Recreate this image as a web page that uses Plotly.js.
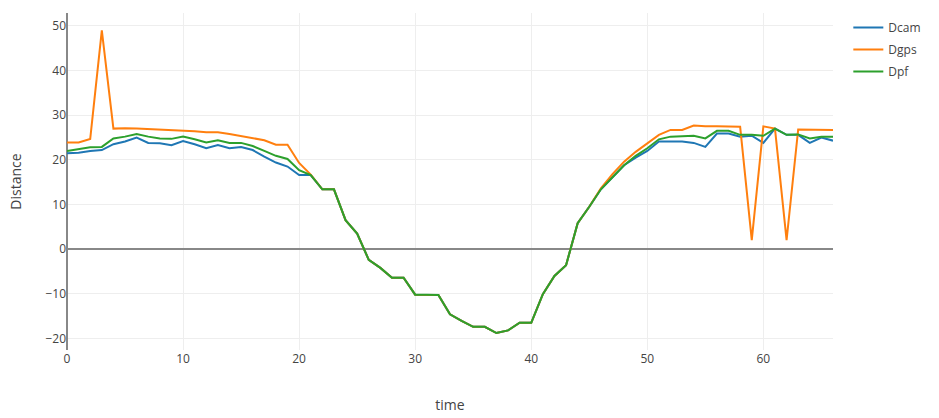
<!DOCTYPE html>
<html>
<head>
<meta charset="utf-8">
<script src="https://cdn.plot.ly/plotly-3.0.1.min.js"></script>
<style>html,body{margin:0;padding:0;background:#fff}#chart{width:939px;height:418px}</style>
</head>
<body>
<div id="chart"></div>
<script>
var time = [];
for (var i = 0; i <= 66; i++) time.push(i);

var dcam = [21.5, 21.6, 22.0, 22.2, 23.5, 24.1, 25.0, 23.8, 23.7, 23.3,
  24.2, 23.5, 22.6, 23.3, 22.6, 22.9, 22.2, 20.7, 19.4, 18.5,
  16.6, 16.6, 13.4, 13.4, 6.5, 3.5, -2.4, -4.2, -6.4, -6.4,
  -10.2, -10.2, -10.3, -14.6, -16.1, -17.4, -17.4, -18.8, -18.2, -16.5,
  -16.5, -10.1, -6.0, -3.6, 5.8, 9.5, 13.4, 16.1, 18.8, 20.5,
  22.0, 24.1, 24.1, 24.1, 23.8, 22.9, 25.9, 25.9, 25.2, 25.4,
  23.8, 27.0, 25.6, 25.6, 23.8, 25.0, 24.3];

var dgps = [23.9, 23.9, 24.7, 49.0, 27.0, 27.1, 27.0, 26.9, 26.8, 26.6,
  26.5, 26.4, 26.2, 26.2, 25.8, 25.3, 24.8, 24.4, 23.4, 23.4,
  19.3, 16.7, 13.4, 13.4, 6.5, 3.5, -2.4, -4.2, -6.4, -6.4,
  -10.2, -10.2, -10.3, -14.6, -16.1, -17.4, -17.4, -18.8, -18.2, -16.5,
  -16.5, -10.1, -6.0, -3.6, 5.8, 9.5, 13.6, 16.8, 19.6, 21.8,
  23.7, 25.6, 26.7, 26.7, 27.7, 27.5, 27.5, 27.4, 27.4, 2.0,
  27.5, 27.0, 2.0, 26.8, 26.8, 26.7, 26.7];

var dpf = [22.0, 22.4, 22.8, 22.9, 24.8, 25.2, 25.8, 25.2, 24.8, 24.7,
  25.2, 24.6, 23.9, 24.4, 23.8, 23.8, 23.1, 22.0, 20.9, 20.2,
  17.7, 16.6, 13.4, 13.4, 6.5, 3.5, -2.4, -4.2, -6.4, -6.4,
  -10.2, -10.2, -10.3, -14.6, -16.1, -17.4, -17.4, -18.8, -18.2, -16.5,
  -16.5, -10.1, -6.0, -3.6, 5.8, 9.5, 13.4, 16.1, 18.8, 20.9,
  22.6, 24.6, 25.2, 25.3, 25.4, 24.8, 26.5, 26.5, 25.6, 25.6,
  25.4, 27.0, 25.6, 25.7, 24.8, 25.2, 25.2];

var seriesNames = ['Dcam', 'Dgps', 'Dpf'];
var seriesData = [dcam, dgps, dpf];
var colors = ['#1f77b4', '#ff7f0e', '#2ca02c'];

var traces = seriesNames.map(function (n, k) {
  return {x: time, y: seriesData[k], name: n, type: 'scatter', mode: 'lines',
    legendgroup: 'g' + k,
    line: {color: colors[k], width: 2}};
});

var layout = {
  width: 939, height: 418,
  margin: {l: 67, r: 106, t: 13, b: 68},
  paper_bgcolor: '#fff', plot_bgcolor: '#fff',
  font: {family: '"Open Sans", sans-serif', size: 12, color: '#444'},
  showlegend: true,
  legend: {x: 1.02, y: 1, xanchor: 'left', yanchor: 'top', font: {size: 12},
    tracegroupgap: 3, traceorder: 'grouped'},
  xaxis: {
    range: [0, 66], dtick: 10, tick0: 0,
    gridcolor: '#eee', zeroline: true, zerolinecolor: '#888', zerolinewidth: 2,
    showline: false, ticks: '',
    title: {text: 'time', font: {size: 14}, standoff: 34}
  },
  yaxis: {
    range: [-22.6, 52.9], dtick: 10, tick0: 0,
    gridcolor: '#eee', zeroline: true, zerolinecolor: '#888', zerolinewidth: 2,
    showline: false, ticks: '',
    title: {text: 'Distance', font: {size: 14}, standoff: 20}
  }
};

Plotly.newPlot('chart', traces, layout, {displayModeBar: false});
</script>
</body>
</html>
